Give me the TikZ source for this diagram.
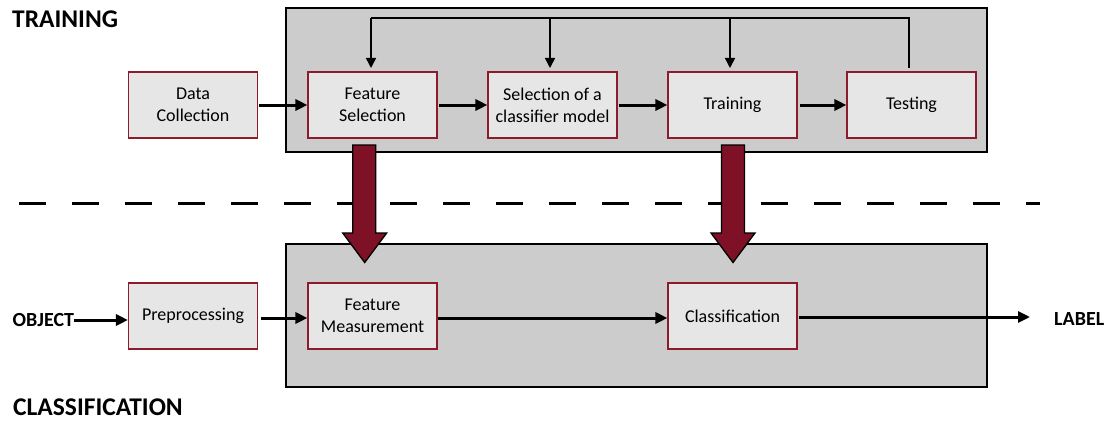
\documentclass[tikz,border=0pt]{standalone}
\usepackage{fontspec}
\setmainfont{Carlito}
\usetikzlibrary{arrows.meta,calc}

\definecolor{panelgray}{HTML}{CCCCCC}
\definecolor{boxfill}{HTML}{E7E6E6}
\definecolor{boxedge}{HTML}{8E1B2C}
\definecolor{bigred}{HTML}{7E1126}

\tikzset{
  stage/.style={draw=boxedge, fill=boxfill, line width=1.1pt,
    minimum width=129pt, minimum height=66pt, inner sep=2pt,
    align=center, font=\fontsize{18}{22}\selectfont},
  panel/.style={draw=black, fill=panelgray, line width=1.3pt},
  flow/.style={line width=3pt, -{Triangle[length=12pt,width=11pt]}},
  loopline/.style={line width=1.5pt},
  looparrow/.style={line width=1.5pt, -{Triangle[length=10pt,width=10pt]}},
  heading/.style={anchor=west, inner sep=0pt, font=\fontsize{25.5}{30}\selectfont\bfseries},
  endlabel/.style={anchor=west, inner sep=0pt, font=\fontsize{20}{24}\selectfont\bfseries},
  bigarrow/.style={draw=black, fill=bigred, line width=1.3pt, line join=miter},
}

\begin{document}
\begin{tikzpicture}[x=1pt, y=-1pt]
\useasboundingbox (0,0) rectangle (1115,420);

% dashed divider between the two phases
\draw[line width=3pt, dash pattern=on 27pt off 26pt] (19,203) -- (1040,203);

% grey panels
\draw[panel] (286,8) rectangle (987,152);
\draw[panel] (286,244) rectangle (987,387);

% headings
\node[heading] (ttrain) at (12,19.5) {TRAINING};
\node[heading] (tclass) at (13,407) {CLASSIFICATION};

% training row
\node[stage] (data) at (193,105) {Data\\Collection};
\node[stage] (fsel) at (372.5,105) {Feature\\Selection};
\node[stage] (model) at (552.5,105) {Selection of a\\classifier model};
\node[stage] (train) at (732.5,105) {Training};
\node[stage] (test) at (911.5,105) {Testing};

\draw[flow, shorten <=1pt] (data.east) -- (fsel.west);
\draw[flow, shorten <=1pt] (fsel.east) -- (model.west);
\draw[flow, shorten <=1pt] (model.east) -- (train.west);
\draw[flow, shorten <=2pt] (train.east) -- (test.west);

% feedback loop from testing
\coordinate (fbstart) at (909,68);
\coordinate (fbcorner) at (909,18);
\coordinate (fbend) at (371,18);
\draw[loopline] (fbstart) -- (fbcorner) -- (fbend);
\draw[looparrow] (fbend) -- (371,68);
\coordinate (fbmodel) at (550,18);
\coordinate (fbtrain) at (730,18);
\draw[looparrow] (fbmodel) -- (550,68);
\draw[looparrow] (fbtrain) -- (730,68);

% classification row
\node[endlabel] (obj) at (12.5,320) {OBJECT};
\node[stage] (pre) at (193,316) {Preprocessing};
\node[stage] (meas) at (372.5,316) {Feature\\Measurement};
\node[stage] (cls) at (732.5,316) {Classification};
\node[endlabel] (lbl) at (1054,319) {LABEL};
\coordinate (outend) at (1030,317);

\draw[flow] (obj.east) -- (pre.west |- obj.east);
\draw[flow, shorten <=3pt] (pre.east |- 0,318) -- (meas.west |- 0,318);
\draw[flow] (meas.east |- 0,318) -- (cls.west |- 0,318);
\draw[flow, shorten <=1pt] (cls.east |- outend) -- (outend);

% broad arrows carrying results down to the classifier
\draw[bigarrow] (352.7,145) -- (375.7,145) -- (375.7,233) -- (386.7,233)
  -- (364.7,262.5) -- (342.7,233) -- (352.7,233) -- cycle;
\draw[bigarrow] (721.5,145) -- (744.5,145) -- (744.5,233) -- (755,233)
  -- (733,262.5) -- (711,233) -- (721.5,233) -- cycle;
\end{tikzpicture}
\end{document}
